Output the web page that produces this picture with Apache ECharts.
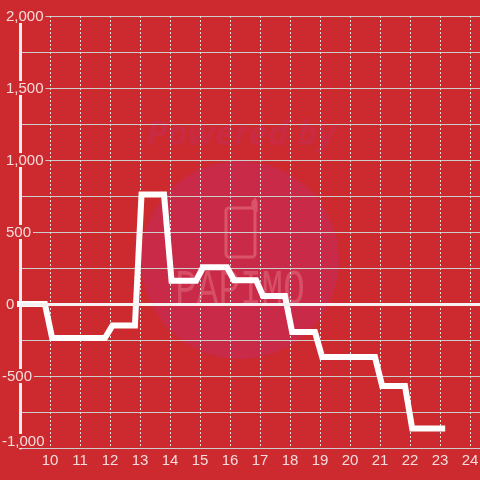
<!DOCTYPE html>
<html>
<head>
<meta charset="utf-8">
<style>
  html, body { margin: 0; padding: 0; background: #cc2a2e; }
  #chart { width: 480px; height: 480px; }
</style>
<script src="https://cdn.jsdelivr.net/npm/echarts@6/dist/echarts.min.js"></script>
</head>
<body>
<div id="chart"></div>
<script>
const hours = [8.9, 9.83, 10.07, 11.83, 12.08, 12.83, 13.05, 13.8, 14.05, 14.87, 15.1, 15.9, 16.13, 16.87, 17.1, 17.83, 18.07, 18.83, 19.07, 20.83, 21.07, 21.83, 22.07, 23.17]
const values = [0, 0, -236, -236, -150, -150, 760, 760, 162, 162, 255, 255, 165, 165, 55, 55, -195, -195, -368, -368, -570, -570, -865, -865]

const BG = '#cc2a2e'
const LABEL = '#f5dcdc'
const font = 'Liberation Sans'

const chart = echarts.init(document.getElementById('chart'))
chart.setOption({
  animation: false,
  backgroundColor: BG,
  textStyle: { fontFamily: font },
  grid: { left: 20, right: 0, top: 16, bottom: 32, outerBoundsMode: 'none' },
  graphic: [
    { type: 'circle', z: -10, shape: { cx: 240, cy: 260, r: 99 }, style: { fill: '#c82a48' } },
    {
      type: 'text', z: -9, x: 241, y: 135,
      style: {
        text: 'Powered by', fill: '#c92b42', align: 'center', verticalAlign: 'middle',
        font: 'italic bold 34.5px "Open Sans"',
      },
    },
    {
      type: 'rect', z: -9,
      shape: { x: 226, y: 208, width: 29, height: 49, r: 3 },
      style: { fill: 'none', stroke: '#d95468', lineWidth: 3 },
    },
    {
      type: 'polyline', z: -9,
      shape: { points: [[253, 208], [253, 202], [255, 200], [256, 202], [256, 212]] },
      style: { fill: 'none', stroke: '#d95468', lineWidth: 3 },
    },
    {
      type: 'text', z: -9, x: 240, y: 291, scaleX: 0.72,
      style: {
        text: 'PAPIMO', fill: '#d64f66', align: 'center', verticalAlign: 'middle',
        font: '50px "Liberation Mono"',
      },
    },
  ],
  xAxis: {
    type: 'value',
    min: 9,
    max: 24.33,
    interval: 1,
    axisLine: { onZero: false, show: false },
    axisTick: { show: false },
    axisLabel: {
      color: LABEL, fontSize: 15, margin: 5,
      showMinLabel: false, showMaxLabel: false,
    },
    splitLine: { lineStyle: { color: '#e0e0e0', width: 1, type: [2, 2] } },
  },
  yAxis: {
    type: 'value',
    min: -1000,
    max: 2000,
    interval: 250,
    axisLine: { show: true, lineStyle: { color: '#eeeeee', width: 3 } },
    axisTick: { show: false },
    axisLabel: {
      color: LABEL, fontSize: 15, margin: 18, align: 'left',
      verticalAlignMinLabel: 'bottom',
      backgroundColor: BG, padding: [2, 2, 0, 0], lineHeight: 12,
      formatter: (v) => {
        if (v % 500 !== 0) return ''
        const s = v.toLocaleString('en-US')
        return v < 0 ? s : `{p|${s}}`
      },
      rich: { p: { padding: [0, 0, 0, 4], fontSize: 15, lineHeight: 12, color: LABEL } },
    },
    splitLine: { lineStyle: { color: '#cccccc', width: 1 } },
  },
  series: [{
    type: 'line',
    data: hours.map((h, i) => [h, values[i]]),
    symbol: 'none',
    clip: false,
    lineStyle: { color: '#ffffff', width: 6, join: 'miter', cap: 'butt' },
    markLine: {
      silent: true,
      symbol: 'none',
      label: { show: false },
      lineStyle: { color: '#f7f0f0', width: 3, type: 'solid' },
      data: [{ yAxis: 0 }],
    },
  }],
})
</script>
</body>
</html>
